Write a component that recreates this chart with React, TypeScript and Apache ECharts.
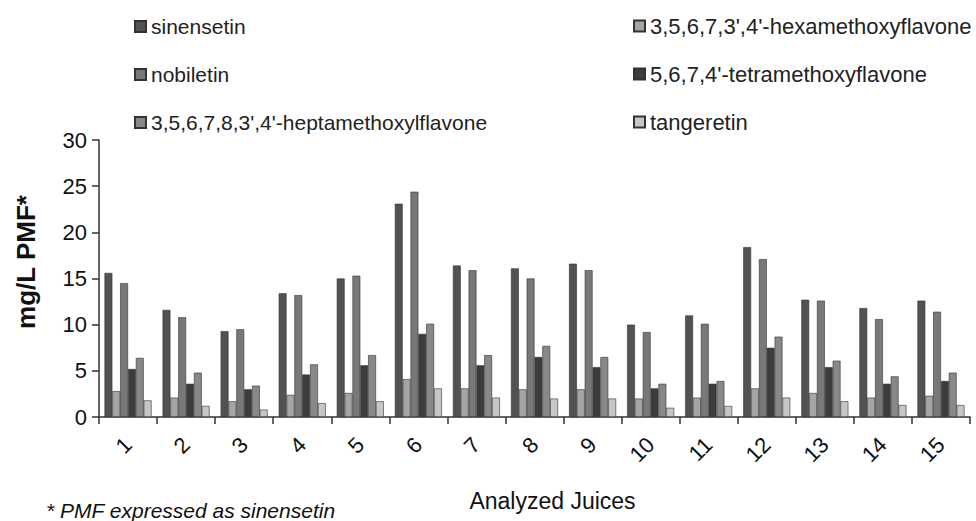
import React, { useEffect, useRef } from "react";
import * as echarts from "echarts";

const categories = ["1", "2", "3", "4", "5", "6", "7", "8", "9", "10", "11", "12", "13", "14", "15"];
const seriesNames = [
  "sinensetin",
  "3,5,6,7,3',4'-hexamethoxyflavone",
  "nobiletin",
  "5,6,7,4'-tetramethoxyflavone",
  "3,5,6,7,8,3',4'-heptamethoxylflavone",
  "tangeretin",
];
const sinensetin = [15.6, 11.6, 9.3, 13.4, 15.0, 23.1, 16.4, 16.1, 16.6, 10.0, 11.0, 18.4, 12.7, 11.8, 12.6];
const hexamethoxy = [2.8, 2.1, 1.7, 2.4, 2.6, 4.1, 3.1, 3.0, 3.0, 2.0, 2.1, 3.1, 2.6, 2.1, 2.3];
const nobiletin = [14.5, 10.8, 9.5, 13.2, 15.3, 24.4, 15.9, 15.0, 15.9, 9.2, 10.1, 17.1, 12.6, 10.6, 11.4];
const tetramethoxy = [5.2, 3.6, 3.0, 4.6, 5.6, 9.0, 5.6, 6.5, 5.4, 3.1, 3.6, 7.5, 5.4, 3.6, 3.9];
const heptamethoxy = [6.4, 4.8, 3.4, 5.7, 6.7, 10.1, 6.7, 7.7, 6.5, 3.6, 3.9, 8.7, 6.1, 4.4, 4.8];
const tangeretin = [1.8, 1.2, 0.8, 1.5, 1.7, 3.1, 2.1, 2.0, 2.0, 1.0, 1.2, 2.1, 1.7, 1.3, 1.3];
const seriesData = [sinensetin, hexamethoxy, nobiletin, tetramethoxy, heptamethoxy, tangeretin];
const colors = ["#525252", "#a5a5a5", "#787878", "#3c3c3c", "#888888", "#c6c6c6"];
const yTicks = { min: 0, max: 30, interval: 5 };

const FONT = "'Liberation Sans', Arial, sans-serif";

export default function App() {
  const ref = useRef<HTMLDivElement>(null);
  useEffect(() => {
    if (!ref.current) return;
    const chart = echarts.init(ref.current, null, { renderer: "svg" });
    const legendText = { fontFamily: FONT, fontSize: 21, color: "#222" };
    chart.setOption({
      animation: false,
      backgroundColor: "#ffffff",
      color: colors,
      textStyle: { fontFamily: FONT },
      legend: [
        {
          orient: "vertical",
          left: 129,
          top: 11,
          itemGap: 27,
          itemWidth: 11,
          itemHeight: 11,
          icon: "rect",
          textStyle: legendText,
          data: [seriesNames[0], seriesNames[2], seriesNames[4]],
        },
        {
          orient: "vertical",
          left: 628,
          top: 10,
          itemGap: 26,
          itemWidth: 11,
          itemHeight: 11,
          icon: "rect",
          textStyle: { ...legendText, fontSize: 22 },
          data: [seriesNames[1], seriesNames[3], seriesNames[5]],
        },
      ],
      grid: { left: 99, right: 6, top: 140, bottom: 104, containLabel: false },
      xAxis: {
        type: "category",
        data: categories,
        name: "Analyzed Juices",
        nameLocation: "middle",
        nameGap: 72,
        nameTextStyle: { fontFamily: FONT, fontSize: 23, color: "#111", padding: [0, 0, 0, 36] },
        axisLine: { lineStyle: { color: "#333", width: 1.5 } },
        axisTick: { show: true, interval: 0, alignWithLabel: false, length: 7, lineStyle: { color: "#333", width: 1.5 } },
        axisLabel: { rotate: 45, fontFamily: FONT, fontSize: 22, color: "#111", margin: 24, interval: 0 },
      },
      yAxis: {
        type: "value",
        min: yTicks.min,
        max: yTicks.max,
        interval: yTicks.interval,
        splitLine: { show: false },
        axisLine: { show: true, lineStyle: { color: "#333", width: 1.5 } },
        axisTick: { show: true, length: 7, lineStyle: { color: "#333", width: 1.5 } },
        axisLabel: { fontFamily: FONT, fontSize: 22, color: "#111", margin: 12 },
      },
      graphic: [
        {
          type: "text",
          x: 26,
          y: 262,
          rotation: Math.PI / 2,
          style: {
            text: "mg/L PMF*",
            fontFamily: FONT,
            fontSize: 26,
            fontWeight: "bold",
            fill: "#111",
            align: "center",
            verticalAlign: "middle",
          },
        },
        {
          type: "text",
          left: 46,
          top: 500,
          style: { text: "* PMF expressed as sinensetin", fontFamily: FONT, fontSize: 21, fontStyle: "italic", fill: "#111" },
        },
      ],
      series: seriesNames.map((name, i) => ({
        name,
        type: "bar",
        data: seriesData[i],
        barGap: "0%",
        barCategoryGap: "19%",
        itemStyle: { color: colors[i], borderColor: "#333", borderWidth: 0.6 },
      })),
    });
    return () => chart.dispose();
  }, []);
  return (
    <div
      ref={ref}
      style={{ position: "absolute", left: 0, top: 0, width: 976, height: 521, background: "#fff" }}
    />
  );
}
